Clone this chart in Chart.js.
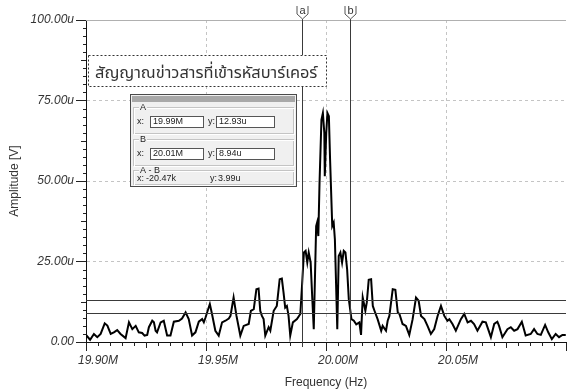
<!DOCTYPE html>
<html>
<head>
<meta charset="utf-8">
<script src="https://cdn.jsdelivr.net/npm/chart.js@4.4.1/dist/chart.umd.min.js"></script>
<style>
  html, body { margin: 0; padding: 0; background: #fff; }
  #wrap { width: 568px; height: 392px; }
</style>
</head>
<body>
<div id="wrap"><canvas id="spectrum" width="568" height="392"></canvas></div>
<script>
// spectrum trace, frequency in MHz, amplitude in uV
const freqs = [
  19.9000, 19.9017, 19.9033, 19.9047, 19.9061, 19.9078, 19.9089, 19.9103, 19.9116, 19.9130,
  19.9144, 19.9165, 19.9179, 19.9193, 19.9207, 19.9220, 19.9234, 19.9244, 19.9255, 19.9262,
  19.9276, 19.9283, 19.9290, 19.9296, 19.9311, 19.9324, 19.9338, 19.9352, 19.9366, 19.9387,
  19.9400, 19.9415, 19.9428, 19.9442, 19.9456, 19.9470, 19.9484, 19.9491, 19.9498, 19.9516,
  19.9525, 19.9539, 19.9553, 19.9567, 19.9581, 19.9595, 19.9602, 19.9615, 19.9627, 19.9643,
  19.9657, 19.9678, 19.9687, 19.9699, 19.9710, 19.9719, 19.9726, 19.9733, 19.9740, 19.9747,
  19.9761, 19.9768, 19.9782, 19.9795, 19.9807, 19.9816, 19.9823, 19.9830, 19.9837, 19.9844,
  19.9851, 19.9862, 19.9879, 19.9893, 19.9900, 19.9908, 19.9915, 19.9922, 19.9928, 19.9936,
  19.9943, 19.9949, 19.9959, 19.9963, 19.9968, 19.9973, 19.9981, 19.9987, 19.9993, 19.9995,
  20.0001, 20.0006, 20.0012, 20.0017, 20.0026, 20.0032, 20.0037, 20.0047, 20.0053, 20.0060,
  20.0067, 20.0074, 20.0081, 20.0088, 20.0095, 20.0106, 20.0116, 20.0126, 20.0139, 20.0146,
  20.0153, 20.0164, 20.0170, 20.0178, 20.0188, 20.0195, 20.0202, 20.0215, 20.0230, 20.0236,
  20.0250, 20.0257, 20.0264, 20.0278, 20.0289, 20.0299, 20.0306, 20.0319, 20.0333, 20.0347,
  20.0361, 20.0375, 20.0386, 20.0396, 20.0410, 20.0423, 20.0437, 20.0451, 20.0465, 20.0479,
  20.0493, 20.0506, 20.0514, 20.0527, 20.0541, 20.0562, 20.0576, 20.0590, 20.0604, 20.0617,
  20.0631, 20.0652, 20.0666, 20.0687, 20.0701, 20.0714, 20.0721, 20.0735, 20.0756, 20.0770,
  20.0784, 20.0798, 20.0816, 20.0832, 20.0853, 20.0867, 20.0881, 20.0895, 20.0913, 20.0926,
  20.0941, 20.0957, 20.0971, 20.0985, 20.0999
];
const amps = [
  2.2, 0.7, 2.5, 1.5, 2.5, 5.8, 5.1, 2.5, 3.0, 3.7,
  2.5, 1.2, 6.1, 4.0, 5.0, 3.0, 2.8, 2.0, 2.2, 4.6,
  6.6, 6.1, 3.5, 3.0, 6.1, 6.6, 2.0, 2.0, 6.3, 6.6,
  7.3, 9.2, 7.1, 2.0, 3.0, 6.3, 7.1, 6.1, 7.6, 11.8,
  8.7, 3.5, 2.0, 6.1, 6.6, 7.3, 8.1, 13.8, 8.1, 2.0,
  5.0, 5.6, 9.7, 10.2, 16.4, 16.6, 9.7, 8.1, 7.1, 2.0,
  4.6, 3.5, 9.7, 11.2, 19.5, 19.7, 15.4, 10.7, 11.2, 8.1,
  2.0, 6.1, 7.1, 8.7, 17.4, 27.8, 28.3, 24.7, 27.8, 24.7,
  13.3, 4.0, 36.0, 37.1, 32.9, 49.4, 69.0, 71.1, 64.9, 51.5,
  64.9, 71.1, 70.1, 56.7, 36.0, 37.1, 31.9, 4.0, 26.7, 27.8,
  24.7, 28.3, 27.8, 22.6, 13.3, 7.1, 6.6, 5.5, 6.1, 2.2,
  13.8, 9.7, 12.3, 19.3, 19.5, 11.2, 9.7, 7.1, 3.5, 5.0,
  3.5, 6.6, 8.1, 16.4, 16.2, 9.2, 8.7, 5.6, 5.0, 2.2,
  7.1, 13.8, 12.8, 8.1, 7.1, 5.0, 2.5, 4.0, 8.1, 11.2,
  8.1, 6.6, 7.1, 5.6, 3.5, 7.1, 8.7, 6.1, 6.6, 5.6,
  3.5, 6.3, 6.1, 1.5, 5.6, 6.3, 5.0, 1.5, 4.0, 4.6,
  3.5, 4.0, 6.3, 2.0, 2.5, 4.0, 2.5, 2.2, 5.3, 3.0,
  0.9, 2.5, 1.5, 2.2, 2.2
];

const xMin = 19.90, xMax = 20.10, xStep = 0.05;
const yMin = 0, yMax = 100, yStep = 25;

// cursors a / b and the readout
const cursorNames = ['a', 'b'];
const cursorFreqs = [19.9898, 20.0102];
const cursorAmps = [12.93, 8.94];
const readA = ['19.99M', '12.93u'];
const readB = ['20.01M', '8.94u'];
const readDiff = ['-20.47k', '3.99u'];
const titleText = 'สัญญาณข่าวสารที่เข้ารหัสบาร์เคอร์';

const sansFont = "'Liberation Sans', Arial, sans-serif";
const thaiFont = "'Noto Sans Thai', 'Loma', 'Tahoma', 'DejaVu Sans', sans-serif";

Chart.defaults.font.family = sansFont;

function isMajor(v, step) {
  const r = v / step;
  return Math.abs(r - Math.round(r)) < 1e-6;
}

function drawReadout(ctx) {
  const L = 130, T = 94, W = 167, H = 93;
  ctx.fillStyle = '#f0f0f0';
  ctx.fillRect(L, T, W, H);
  ctx.strokeStyle = '#4a4a4a';
  ctx.lineWidth = 1;
  ctx.strokeRect(L + 0.5, T + 0.5, W - 1, H - 1);
  ctx.fillStyle = '#a8a8a8';
  ctx.fillRect(L + 2, T + 2, W - 4, 6);

  const groups = [
    { name: 'A', top: 107, h: 26, vals: readA, boxes: true },
    { name: 'B', top: 139, h: 26, vals: readB, boxes: true },
    { name: 'A - B', top: 170, h: 14, vals: readDiff, boxes: false }
  ];
  ctx.font = '9px ' + sansFont;
  ctx.textBaseline = 'middle';
  groups.forEach(g => {
    ctx.strokeStyle = '#c4c4c4';
    ctx.strokeRect(133.5, g.top + 0.5, 160, g.h);
    ctx.strokeStyle = '#ffffff';
    ctx.strokeRect(134.5, g.top + 1.5, 160, g.h);
    const lw = ctx.measureText(g.name).width;
    ctx.fillStyle = '#f0f0f0';
    ctx.fillRect(139, g.top - 2, lw + 2, 5);
    ctx.fillStyle = '#222';
    ctx.textAlign = 'left';
    ctx.fillText(g.name, 140, g.top + 1);
    const cy = g.boxes ? g.top + 15 : g.top + 9;
    if (g.boxes) {
      ctx.fillStyle = '#fff';
      ctx.fillRect(150, g.top + 9, 54, 12);
      ctx.fillRect(216, g.top + 9, 59, 12);
      ctx.strokeStyle = '#555';
      ctx.strokeRect(150.5, g.top + 9.5, 53, 11);
      ctx.strokeRect(216.5, g.top + 9.5, 58, 11);
    }
    ctx.fillStyle = '#222';
    ctx.fillText('x:', 137, cy);
    ctx.fillText('y:', g.boxes ? 208 : 210, cy);
    ctx.fillText(g.vals[0], g.boxes ? 153 : 146, cy);
    ctx.fillText(g.vals[1], g.boxes ? 219 : 218, cy);
  });
}

const overlay = {
  id: 'overlay',
  beforeDatasetsDraw(chart) {
    const { ctx, chartArea: a, scales: { x, y } } = chart;
    ctx.save();
    ctx.lineWidth = 1;
    ctx.strokeStyle = '#b0b0b0';
    ctx.beginPath();
    ctx.moveTo(a.left, a.top + 0.5);
    ctx.lineTo(a.right, a.top + 0.5);
    ctx.stroke();
    // minor ticks
    ctx.strokeStyle = '#222';
    for (let k = 1; k < 40; k++) {
      if (k % 10 === 0) continue;
      const px = Math.round(x.getPixelForValue(xMin + k * 0.005)) + 0.5;
      const len = k % 5 === 0 ? 6 : 4;
      ctx.beginPath();
      ctx.moveTo(px, a.bottom);
      ctx.lineTo(px, a.bottom + len);
      ctx.stroke();
    }
    for (let k = 1; k < 40; k++) {
      if (k % 10 === 0) continue;
      const py = Math.round(y.getPixelForValue(k * 2.5)) + 0.5;
      const len = k % 5 === 0 ? 5 : 3;
      ctx.beginPath();
      ctx.moveTo(a.left - len, py);
      ctx.lineTo(a.left, py);
      ctx.stroke();
    }
    ctx.restore();
  },
  afterDatasetsDraw(chart) {
    const { ctx, chartArea: a, scales: { x, y } } = chart;
    ctx.save();
    ctx.lineWidth = 1;
    ctx.strokeStyle = '#3a3a3a';
    // horizontal cursor lines
    cursorAmps.forEach(v => {
      const py = Math.round(y.getPixelForValue(v)) + 0.5;
      ctx.beginPath();
      ctx.moveTo(a.left, py);
      ctx.lineTo(a.right, py);
      ctx.stroke();
    });
    // vertical cursors with markers
    cursorFreqs.forEach((f, i) => {
      const px = Math.round(x.getPixelForValue(f)) + 0.5;
      ctx.strokeStyle = '#3a3a3a';
      ctx.beginPath();
      ctx.moveTo(px, 19);
      ctx.lineTo(px, a.bottom + 5);
      ctx.stroke();
      ctx.strokeStyle = '#555';
      ctx.beginPath();
      ctx.moveTo(px - 5.5, 6);
      ctx.lineTo(px - 5.5, 14);
      ctx.lineTo(px, 19);
      ctx.lineTo(px + 5.5, 14);
      ctx.lineTo(px + 5.5, 6);
      ctx.stroke();
      ctx.fillStyle = '#333';
      ctx.font = '11px ' + sansFont;
      ctx.textAlign = 'center';
      ctx.textBaseline = 'middle';
      ctx.fillText(cursorNames[i], px, 11);
    });

    // dashed title box
    ctx.fillStyle = '#fff';
    ctx.fillRect(88, 55, 239, 32);
    ctx.setLineDash([2, 2]);
    ctx.strokeStyle = '#333';
    ctx.strokeRect(88.5, 55.5, 238, 31);
    ctx.setLineDash([]);
    let size = 18;
    ctx.font = size + 'px ' + thaiFont;
    size = size * 222 / ctx.measureText(titleText).width;
    ctx.font = size.toFixed(1) + 'px ' + thaiFont;
    ctx.fillStyle = '#333';
    ctx.textAlign = 'left';
    ctx.textBaseline = 'alphabetic';
    ctx.fillText(titleText, 95, 78);

    drawReadout(ctx);
    ctx.restore();
  }
};

const points = freqs.map((f, i) => ({ x: f, y: amps[i] }));

new Chart(document.getElementById('spectrum'), {
  type: 'scatter',
  data: {
    datasets: [{
      data: points,
      showLine: true,
      borderColor: '#000',
      borderWidth: 2,
      pointRadius: 0,
      tension: 0,
      fill: false
    }]
  },
  options: {
    responsive: false,
    animation: false,
    devicePixelRatio: 1,
    layout: { padding: { top: 20, right: 1, left: 0, bottom: 0 } },
    plugins: { legend: { display: false }, tooltip: { enabled: false } },
    scales: {
      x: {
        type: 'linear',
        min: xMin,
        max: xMax,
        afterFit(s) { s.height = 50; },
        ticks: {
          stepSize: xStep,
          autoSkip: false,
          maxRotation: 0,
          labelOffset: 12,
          padding: 2,
          color: '#333',
          font: { size: 12, style: 'italic' },
          callback: v => Math.abs(v - xMax) < 1e-6 ? '' : v.toFixed(2) + 'M'
        },
        grid: {
          color: c => (c.tick && isMajor(c.tick.value - xMin, xStep) && c.tick.value > xMin + 1e-6 && c.tick.value < xMax - 1e-6) ? '#c4c4c4' : 'rgba(0,0,0,0)',
          tickColor: '#222',
          tickLength: 9
        },
        border: { color: '#111', width: 1, dash: [3, 3] },
        title: {
          display: true,
          text: 'Frequency (Hz)',
          color: '#333',
          font: { size: 12 },
          padding: { top: 0, bottom: 2 }
        }
      },
      y: {
        min: yMin,
        max: yMax,
        afterFit(s) { s.width = 86; },
        ticks: {
          stepSize: yStep,
          padding: 2,
          color: '#333',
          font: { size: 12, style: 'italic' },
          callback: v => v === 0 ? '0.00' : v.toFixed(2) + 'u'
        },
        grid: {
          color: c => (c.tick && c.tick.value > yMin && c.tick.value < yMax) ? '#c4c4c4' : 'rgba(0,0,0,0)',
          tickColor: '#222',
          tickLength: 10
        },
        border: { color: '#111', width: 1, dash: [3, 3] },
        title: {
          display: true,
          text: 'Amplitude [V]',
          color: '#333',
          font: { size: 12 },
          padding: { top: 7, bottom: 0 }
        }
      }
    }
  },
  plugins: [overlay]
});
</script>
</body>
</html>
